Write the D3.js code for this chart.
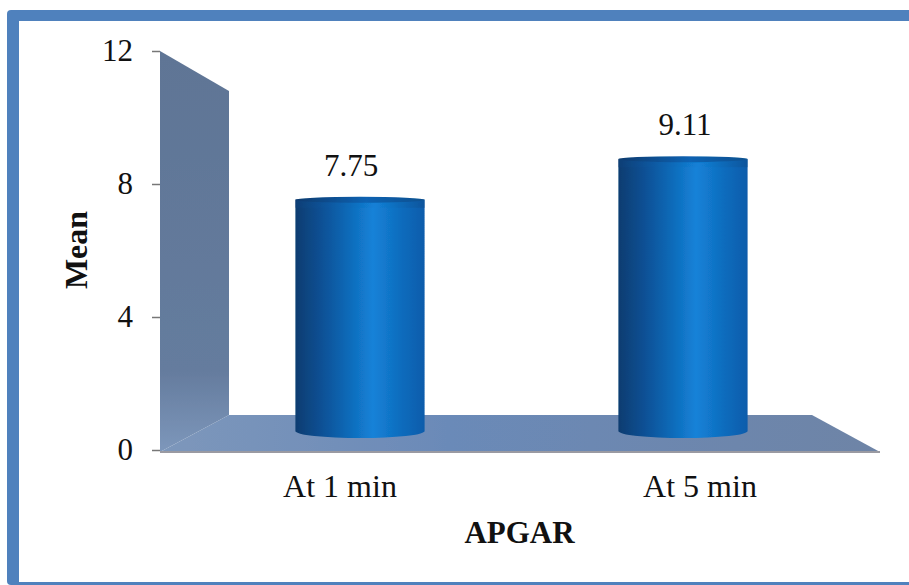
<!DOCTYPE html>
<html>
<head>
<meta charset="utf-8">
<script src="https://cdn.jsdelivr.net/npm/d3@7"></script>
<style>
    html, body { margin: 0; padding: 0; background: #fff; overflow: hidden; }
    svg { display: block; }
    text { font-family: "Liberation Serif", "Times New Roman", serif; fill: #111; }
</style>
</head>
<body>
<div id="chart"></div>
<script>
const categories = ["At 1 min", "At 5 min"]
const means = [7.75, 9.11]
const meanLabels = ["7.75", "9.11"]
const yTicks = [0, 4, 8, 12]
const yMax = 12

const config = {
    svgWidth: 909,
    svgHeight: 585,
    fontSize: 31,
    labelSize: 32,
    barRx: 65,
}

// floor/wall corners, front plane and back plane of the fake 3d box
const box = {
    frontLeft: 160, frontRight: 880, frontBottom: 452, frontTop: 51,
    backLeft: 229, backRight: 812, backBottom: 415, backTop: 91,
}

var svg = d3.select('#chart').append('svg')
    .attr('width', config.svgWidth)
    .attr('height', config.svgHeight)

var defs = svg.append('defs')

// soft edges, the reference is a blurry jpeg
defs.append('filter').attr('id', 'soft')
    .append('feGaussianBlur').attr('stdDeviation', 0.7)

function gradient(id, stops, x2, y2) {
    var g = defs.append('linearGradient').attr('id', id)
        .attr('x1', 0).attr('y1', 0).attr('x2', x2).attr('y2', y2)
    stops.forEach(s => g.append('stop').attr('offset', s[0]).attr('stop-color', s[1]))
}

gradient('barBody', [[0, '#093c70'], [0.22, '#0a5298'], [0.6, '#1482d8'], [0.82, '#0f6cbd'], [1, '#0b5cab']], 1, 0)
gradient('barCap', [[0, '#0a3f78'], [0.3, '#0b5ca6'], [0.62, '#1280d6'], [1, '#0a4f92']], 1, 0)
gradient('barCap2', [[0, '#093a6e'], [0.55, '#0b62b2'], [1, '#08508f']], 1, 0)
gradient('wallFill', [[0, '#5f7595'], [0.8, '#657c9e'], [1, '#7d97bb']], 0, 1)
gradient('floorFill', [[0, '#7d97bb'], [0.4, '#6b8ab8'], [1, '#6e84a6']], 1, 0)

// outer frame
svg.append('rect')
    .attr('x', 7).attr('y', 10).attr('rx', 4)
    .attr('width', config.svgWidth).attr('height', config.svgHeight - 10)
    .attr('fill', '#4f81bd')
svg.append('rect')
    .attr('x', 19).attr('y', 21)
    .attr('width', config.svgWidth).attr('height', 561)
    .attr('fill', '#fff')

// y-scale on the front plane, used by the axis
var yScale = d3.scaleLinear().domain([0, yMax]).range([450, box.frontTop])
// bars stand halfway into the box, so they get their own scale
var barY = d3.scaleLinear().domain([0, yMax]).range([431, 73])

// x-scale for the axis labels (front plane)
var xAxisScale = d3.scaleBand().domain(categories).range([box.frontLeft, box.frontRight])
// x-scale for the bars (middle of the box)
var xBars = d3.scaleBand().domain(categories)
    .range([198.5, 844.5])
    .paddingInner(0.6).paddingOuter(0.3)
// value labels sit a bit off the bars
var xLabels = d3.scaleBand().domain(categories).range([184, 852])

var plot = svg.append('g').attr('filter', 'url(#soft)')

// floor
plot.append('polygon')
    .attr('points', [
        [box.frontLeft, box.frontBottom], [box.backLeft, box.backBottom],
        [box.backRight, box.backBottom], [box.frontRight, box.frontBottom],
    ].join(' '))
    .attr('fill', 'url(#floorFill)')

// back wall
plot.append('polygon')
    .attr('points', [
        [box.frontLeft, box.frontTop], [box.backLeft, box.backTop],
        [box.backLeft, box.backBottom], [box.frontLeft, box.frontBottom],
    ].join(' '))
    .attr('fill', 'url(#wallFill)')

plot.append('line')
    .attr('x1', box.frontLeft).attr('x2', box.frontRight)
    .attr('y1', box.frontBottom).attr('y2', box.frontBottom)
    .attr('stroke', '#9a9aa2').attr('stroke-width', 2)

// bars
var bars = plot.selectAll('g.bar')
    .data(categories)
    .enter()
    .append('g')
    .attr('class', 'bar')

bars.append('path')
    .attr('fill', 'url(#barBody)')
    .attr('d', (item, index) => {
        var left = xBars(item)
        var right = left + xBars.bandwidth()
        var top = barY(means[index])
        var bottom = barY(0)
        return 'M' + left + ',' + top + 'L' + right + ',' + top + 'L' + right + ',' + bottom
            + 'A' + xBars.bandwidth() / 2 + ',7 0 0 1 ' + left + ',' + bottom + 'Z'
    })

// soft band under the cap
bars.append('rect')
    .attr('x', item => xBars(item))
    .attr('y', (item, index) => barY(means[index]))
    .attr('width', xBars.bandwidth())
    .attr('height', 8)
    .attr('fill', 'url(#barCap)')
    .attr('opacity', 0.6)

// cap of the cylinder, a flat ellipse
bars.append('ellipse')
    .attr('cx', item => xBars(item) + xBars.bandwidth() / 2)
    .attr('cy', (item, index) => barY(means[index]))
    .attr('rx', item => xBars.bandwidth() / 2)
    .attr('ry', 3)
    .attr('fill', 'url(#barCap2)')

// value labels
svg.selectAll('text.value')
    .data(categories)
    .enter()
    .append('text')
    .attr('class', 'value')
    .attr('x', item => xLabels(item) + xLabels.bandwidth() / 2)
    .attr('y', (item, index) => barY(means[index]) - 24)
    .attr('text-anchor', 'middle')
    .attr('font-size', config.fontSize)
    .text((item, index) => meanLabels[index])

////////////////////////////////////// AXIS /////////////////////////////////////////////

var yAxis = d3.axisLeft(yScale).tickValues(yTicks).tickSize(8).tickPadding(19)
var yG = svg.append('g')
    .attr('transform', 'translate(' + box.frontLeft + ',0)')
    .call(yAxis)
yG.select('.domain').remove()
yG.selectAll('.tick line').attr('stroke', '#777').attr('stroke-width', 1.5)
yG.selectAll('.tick text').attr('font-size', config.fontSize)
    .attr('font-family', '"Liberation Serif", serif').attr('fill', '#111')

var xAxis = d3.axisBottom(xAxisScale).tickSize(0).tickPadding(22)
var xG = svg.append('g')
    .attr('transform', 'translate(0,' + box.frontBottom + ')')
    .call(xAxis)
xG.select('.domain').remove()
xG.selectAll('.tick text').attr('font-size', config.labelSize)
    .attr('font-family', '"Liberation Serif", serif').attr('fill', '#111')

// axis titles
svg.append('text')
    .attr('x', 519.5).attr('y', 543)
    .attr('text-anchor', 'middle')
    .attr('font-size', config.fontSize).attr('font-weight', 'bold')
    .text('APGAR')

svg.append('text')
    .attr('transform', 'translate(87,250) rotate(-90)')
    .attr('text-anchor', 'middle')
    .attr('font-size', config.labelSize).attr('font-weight', 'bold')
    .text('Mean')
</script>
</body>
</html>
